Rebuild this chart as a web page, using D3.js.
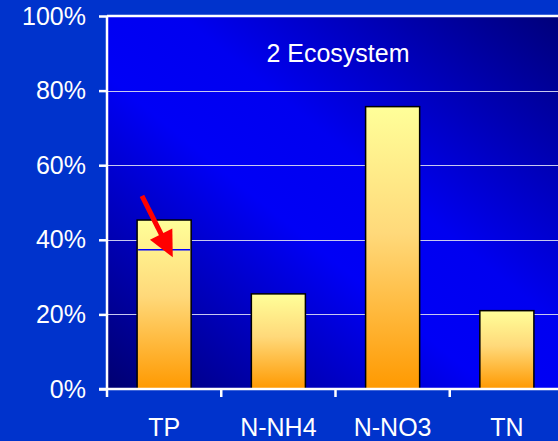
<!DOCTYPE html>
<html>
<head>
<meta charset="utf-8">
<script src="https://cdn.jsdelivr.net/npm/d3@7"></script>
<style>
  html, body { margin: 0; padding: 0; background: #0033cc; }
  svg { display: block; }
  text { font-family: "Liberation Sans", Arial, sans-serif; fill: #ffffff; }
</style>
</head>
<body>
<svg id="chart" width="558" height="441"></svg>
<script>
// Share of each nutrient form (percent)
const categories = ["TP", "N-NH4", "N-NO3", "TN"];
const values = [45.3, 25.5, 75.7, 21.0];
// Secondary level marked inside the TP bar
const innerMarkCategory = "TP";
const innerMarkValue = 37.3;
// Arrow annotation pointing at that level (percent at tail and tip)
const arrowFrom = 51.8;
const arrowTo = 35.3;
const yTicks = [0, 20, 40, 60, 80, 100];
const title = "2 Ecosystem";

const width = 558, height = 441;
const margin = { top: 16, left: 107, bottom: 52 };
const plotW = 457;
const plotH = height - margin.top - margin.bottom;

const svg = d3.select("#chart");
const defs = svg.append("defs");

// Plot background: dark corners along the diagonal, bright blue through the middle
const bg = defs.append("linearGradient").attr("id", "bgGrad")
  .attr("x1", "0").attr("y1", "1").attr("x2", "1").attr("y2", "0");
bg.append("stop").attr("offset", "0").attr("stop-color", "#000070");
bg.append("stop").attr("offset", "0.42").attr("stop-color", "#0000f6");
bg.append("stop").attr("offset", "0.58").attr("stop-color", "#0000f0");
bg.append("stop").attr("offset", "1").attr("stop-color", "#000078");

// Bars fade from pale yellow to orange
const barGrad = defs.append("linearGradient").attr("id", "barGrad")
  .attr("x1", "0").attr("y1", "0").attr("x2", "0").attr("y2", "1");
barGrad.append("stop").attr("offset", "0").attr("stop-color", "#ffff99");
barGrad.append("stop").attr("offset", "0.45").attr("stop-color", "#ffd97a");
barGrad.append("stop").attr("offset", "1").attr("stop-color", "#ff9900");

const g = svg.append("g").attr("transform", `translate(${margin.left},${margin.top})`);

const x = d3.scaleBand().domain(categories).range([0, plotW]).paddingInner(0.527).paddingOuter(0.2635);
const y = d3.scaleLinear().domain([0, 100]).range([plotH, 0]);

g.append("rect").attr("width", plotW).attr("height", plotH).attr("fill", "url(#bgGrad)");

// Gridlines
g.append("g").selectAll("line").data(yTicks.filter(t => t > 0 && t < 100)).join("line")
  .attr("x1", 0).attr("x2", plotW)
  .attr("y1", d => Math.round(y(d)) + 0.5).attr("y2", d => Math.round(y(d)) + 0.5)
  .attr("stroke", "#c8c8f0").attr("stroke-width", 1);

// Top border
g.append("line").attr("x1", 0).attr("x2", plotW).attr("y1", 0).attr("y2", 0)
  .attr("stroke", "#ffffff").attr("stroke-width", 2.5);

// Bars
g.append("g").selectAll("rect").data(categories).join("rect")
  .attr("x", d => x(d))
  .attr("y", (d, i) => y(values[i]))
  .attr("width", x.bandwidth())
  .attr("height", (d, i) => y(0) - y(values[i]))
  .attr("fill", "url(#barGrad)")
  .attr("stroke", "#000000").attr("stroke-width", 1.5);

// Inner level line in TP bar
g.append("line")
  .attr("x1", x(innerMarkCategory) + 1).attr("x2", x(innerMarkCategory) + x.bandwidth() - 1)
  .attr("y1", y(innerMarkValue)).attr("y2", y(innerMarkValue))
  .attr("stroke", "#0000ff").attr("stroke-width", 1.5);

// Arrow annotation: shaft plus a large triangular head
const tail = [x(innerMarkCategory) + x.bandwidth() * 0.09, y(arrowFrom)];
const tip = [x(innerMarkCategory) + x.bandwidth() * 0.66, y(arrowTo)];
const dx = tip[0] - tail[0], dy = tip[1] - tail[1];
const len = Math.hypot(dx, dy);
const ux = dx / len, uy = dy / len;
const headLen = 26, headHalf = 12.5;
const base = [tip[0] - ux * headLen, tip[1] - uy * headLen];
g.append("line")
  .attr("x1", tail[0]).attr("y1", tail[1])
  .attr("x2", base[0] + ux * 2).attr("y2", base[1] + uy * 2)
  .attr("stroke", "#ff0000").attr("stroke-width", 5);
g.append("path")
  .attr("d", d3.line()([
    tip,
    [base[0] - uy * headHalf, base[1] + ux * headHalf],
    [base[0] + uy * headHalf, base[1] - ux * headHalf]
  ]) + "Z")
  .attr("fill", "#ff0000");

// Y axis
const yAxis = g.append("g").call(d3.axisLeft(y).tickValues(yTicks).tickFormat(d => d + "%").tickSize(8).tickPadding(13));
yAxis.select(".domain").attr("stroke", "#ffffff").attr("stroke-width", 2.5).attr("d", `M0,0V${plotH}`);
yAxis.selectAll(".tick line").attr("stroke", "#ffffff").attr("stroke-width", 2.5);
yAxis.selectAll(".tick text").attr("fill", "#ffffff").style("font-size", "25px")
  .style("font-family", "'Liberation Sans', Arial, sans-serif");

// X axis: ticks on band boundaries, labels centred in bands
const xAxisG = g.append("g").attr("transform", `translate(0,${plotH})`);
xAxisG.append("line").attr("x1", -8).attr("x2", plotW).attr("y1", 0).attr("y2", 0)
  .attr("stroke", "#ffffff").attr("stroke-width", 2.5);
const step = x.step();
xAxisG.selectAll("line.tk").data(d3.range(categories.length)).join("line").attr("class", "tk")
  .attr("x1", i => i * step).attr("x2", i => i * step).attr("y1", 0).attr("y2", 8)
  .attr("stroke", "#ffffff").attr("stroke-width", 2.5);
xAxisG.selectAll("text").data(categories).join("text")
  .attr("x", d => x(d) + x.bandwidth() / 2).attr("y", 47)
  .attr("text-anchor", "middle").style("font-size", "25px").text(d => d);

// Title
g.append("text").attr("x", 231).attr("y", 45.5).attr("text-anchor", "middle")
  .style("font-size", "25px").text(title);
</script>
</body>
</html>
